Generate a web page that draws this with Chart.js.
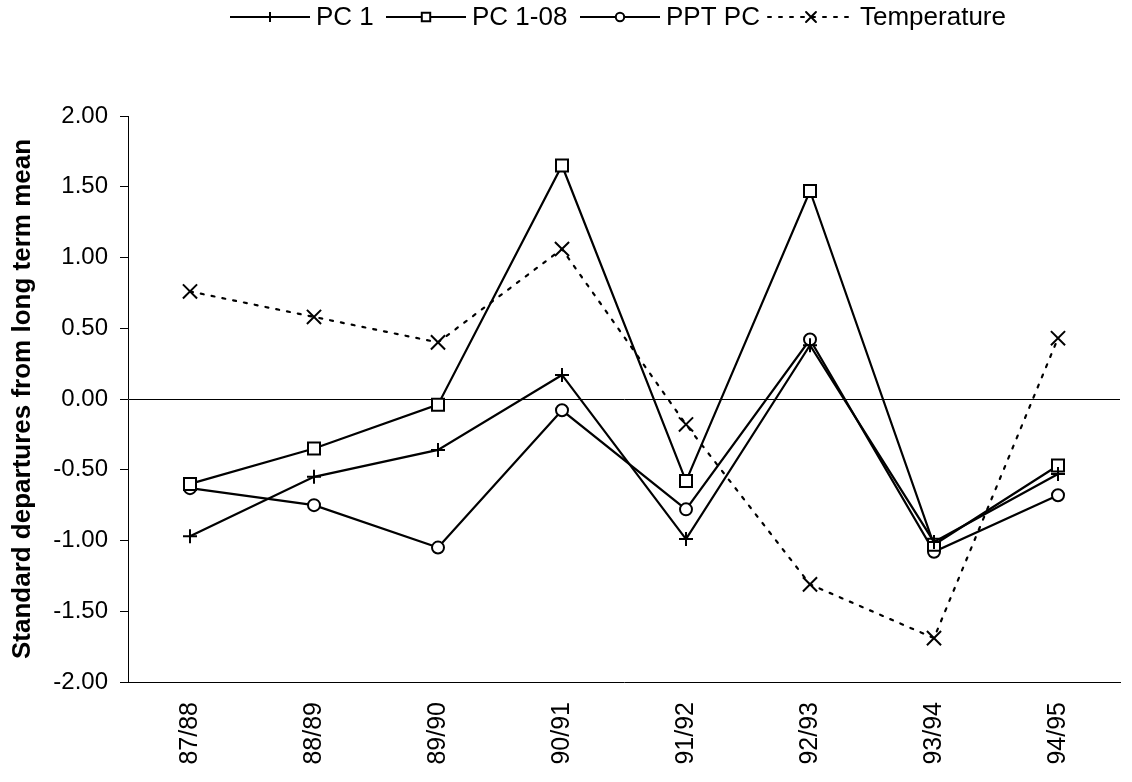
<!DOCTYPE html>
<html>
<head>
<meta charset="utf-8">
<script src="https://cdn.jsdelivr.net/npm/chart.js@4/dist/chart.umd.min.js"></script>
<style>
  html, body { margin: 0; padding: 0; background: #fff; }
  #wrap { width: 1132px; height: 782px; }
</style>
</head>
<body>
<div id="wrap"><canvas id="chart" width="1132" height="782"></canvas></div>
<script>
const seasons = ['87/88', '88/89', '89/90', '90/91', '91/92', '92/93', '93/94', '94/95'];
const pc1 = [-0.97, -0.55, -0.36, 0.17, -0.99, 0.38, -1.01, -0.53];
const pc108 = [-0.60, -0.35, -0.04, 1.65, -0.58, 1.47, -1.03, -0.47];
const pptPc = [-0.63, -0.75, -1.05, -0.08, -0.78, 0.42, -1.08, -0.68];
const temperature = [0.76, 0.58, 0.40, 1.06, -0.18, -1.31, -1.69, 0.43];
const yTicks = [-2, -1.5, -1, -0.5, 0, 0.5, 1, 1.5, 2];

const FONT = "'Liberation Sans', Arial, sans-serif";

// draw one marker the same way for the plot and the legend
const drawMarker = (ctx, style, x, y, r) => {
    ctx.save();
    ctx.setLineDash([]);
    ctx.lineWidth = 2;
    ctx.strokeStyle = '#000';
    ctx.fillStyle = '#fff';
    ctx.beginPath();
    if (style === 'cross') {
        ctx.moveTo(x - r, y); ctx.lineTo(x + r, y);
        ctx.moveTo(x, y - r); ctx.lineTo(x, y + r);
        ctx.stroke();
    } else if (style === 'crossRot') {
        const d = r * Math.SQRT1_2;
        ctx.moveTo(x - d, y - d); ctx.lineTo(x + d, y + d);
        ctx.moveTo(x - d, y + d); ctx.lineTo(x + d, y - d);
        ctx.stroke();
    } else if (style === 'rect') {
        const s = r * Math.SQRT1_2;
        ctx.rect(x - s, y - s, 2 * s, 2 * s);
        ctx.fill(); ctx.stroke();
    } else {
        ctx.arc(x, y, r, 0, Math.PI * 2);
        ctx.fill(); ctx.stroke();
    }
    ctx.restore();
};

// legend across the top: line sample with marker, then the label
const legendStarts = [230, 386, 580, 768];
const sampleLegend = {
    id: 'sampleLegend',
    afterDraw(chart) {
        const ctx = chart.ctx;
        const y = 17;
        ctx.save();
        ctx.font = '26px ' + FONT;
        ctx.textBaseline = 'middle';
        ctx.fillStyle = '#000';
        chart.data.datasets.forEach((ds, i) => {
            const x = legendStarts[i];
            const len = ds.borderDash ? 86 : 80;
            ctx.beginPath();
            ctx.lineWidth = 2;
            ctx.strokeStyle = '#000';
            ctx.setLineDash(ds.borderDash || []);
            ctx.lineCap = ds.borderDash ? 'round' : 'butt';
            ctx.moveTo(x, y);
            ctx.lineTo(x + len, y);
            ctx.stroke();
            drawMarker(ctx, ds.pointStyle, x + len / 2, y, ds.pointRadius * 0.7);
            ctx.fillText(ds.label, x + len + 6, y + 1);
        });
        ctx.restore();
    }
};

const makeSet = (label, data, style, radius, dash) => ({
    label,
    data,
    borderColor: '#000',
    backgroundColor: '#fff',
    borderWidth: 2.2,
    borderDash: dash,
    borderCapStyle: dash ? 'round' : 'butt',
    pointStyle: style,
    pointRadius: radius,
    pointHoverRadius: radius,
    pointBorderWidth: 2,
    pointBorderColor: '#000',
    pointBackgroundColor: '#fff',
    tension: 0,
    fill: false
});

const ctx = document.getElementById('chart').getContext('2d');
new Chart(ctx, {
    type: 'line',
    data: {
        labels: seasons,
        datasets: [
            makeSet('PC 1', pc1, 'cross', 7),
            makeSet('PC 1-08', pc108, 'rect', 8.5),
            makeSet('PPT PC', pptPc, 'circle', 6),
            makeSet('Temperature', temperature, 'crossRot', 10, [3, 8])
        ]
    },
    options: {
        responsive: false,
        animation: false,
        layout: { padding: { top: 116, right: 12, bottom: 0, left: 0 } },
        plugins: {
            legend: { display: false },
            tooltip: { enabled: false }
        },
        scales: {
            x: {
                offset: true,
                grid: { display: false, drawTicks: false },
                border: { display: true, color: '#000', width: 1 },
                ticks: {
                    color: '#000',
                    font: { family: FONT, size: 25 },
                    minRotation: 90,
                    maxRotation: 90,
                    padding: 20,
                    autoSkip: false
                },
                afterFit: scale => { scale.height = 100; }
            },
            y: {
                min: -2,
                max: 2,
                afterBuildTicks: scale => { scale.ticks = yTicks.map(v => ({ value: v })); },
                grid: {
                    color: c => (c.tick && c.tick.value === 0 ? '#000' : 'rgba(0,0,0,0)'),
                    lineWidth: 1,
                    tickColor: '#000',
                    tickLength: 8,
                    drawTicks: true
                },
                border: { display: true, color: '#000', width: 1 },
                ticks: {
                    color: '#000',
                    font: { family: FONT, size: 24 },
                    padding: 12,
                    callback: v => Number(v).toFixed(2)
                },
                title: {
                    display: true,
                    text: 'Standard departures from long term mean',
                    color: '#000',
                    font: { family: FONT, size: 26, weight: 'bold' },
                    padding: { top: 7, bottom: 0 }
                },
                afterFit: scale => { scale.width = 128; }
            }
        }
    },
    plugins: [sampleLegend]
});
</script>
</body>
</html>
